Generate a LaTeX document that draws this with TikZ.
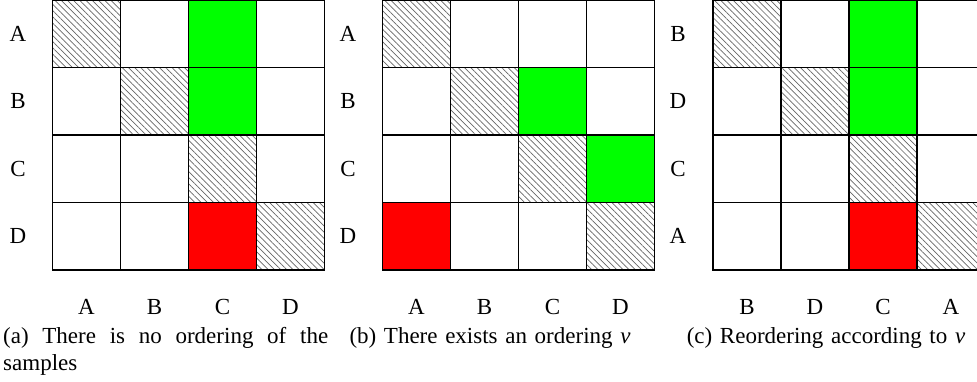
\documentclass[tikz,border=0pt]{standalone}
\usepackage{fontspec}
\setmainfont{Liberation Serif}
\usetikzlibrary{patterns.meta}

\begin{document}
\begin{tikzpicture}[x=1pt, y=-1pt,
  every node/.style={font=\fontsize{23}{27}\selectfont},
  cell/.style={rectangle, draw, line width=1.5pt, minimum width=68pt,
               minimum height=67.5pt, inner sep=0pt},
  plain/.style={},
  diag/.style={pattern={Lines[angle=-45, distance=4.4pt, line width=0.7pt]},
               pattern color=black!60},
  hit/.style={fill=green},
  miss/.style={fill=red},
  lab/.style={inner sep=0pt},
  capt/.style={anchor=base, inner sep=0pt, text width=325pt, align=center,
               execute at begin node={\hyphenpenalty=10000}},
]
  \useasboundingbox (0,0) rectangle (977,381);

  % (a) no ordering
  \foreach \row [count=\i] in {{diag,plain,hit,plain},{plain,diag,hit,plain},
                               {plain,plain,diag,plain},{plain,plain,miss,diag}}
    \foreach \s [count=\j] in \row
      \node[cell, style/.expanded=\s] (a\i\j) at ({52.5+68*\j-34},{67.5*\i-33.75}) {};
  \foreach \t [count=\i] in {A,B,C,D} {
    \node[lab] (arow\i) at (18,{67.5*\i-33.75}) {\t};
    \node[lab] (acol\i) at ({52.5+68*\i-34},306.7) {\t};
  }
  \node[capt, anchor=base west, align=justify] (acapt) at (3,343)
    {(a) There is no ordering of the samples};

  % (b) ordering exists
  \foreach \row [count=\i] in {{diag,plain,plain,plain},{plain,diag,hit,plain},
                               {plain,plain,diag,hit},{miss,plain,plain,diag}}
    \foreach \s [count=\j] in \row
      \node[cell, style/.expanded=\s] (b\i\j) at ({382.5+68*\j-34},{67.5*\i-33.75}) {};
  \foreach \t [count=\i] in {A,B,C,D} {
    \node[lab] (brow\i) at (348,{67.5*\i-33.75}) {\t};
    \node[lab] (bcol\i) at ({382.5+68*\i-34},306.7) {\t};
  }
  \node[capt] (bcapt) at (490,343) {(b) There exists an ordering \textit{ν}};

  % (c) reordered
  \foreach \row [count=\i] in {{diag,plain,hit,plain},{plain,diag,hit,plain},
                               {plain,plain,diag,plain},{plain,plain,miss,diag}}
    \foreach \s [count=\j] in \row
      \node[cell, style/.expanded=\s] (c\i\j) at ({713+68*\j-34},{67.5*\i-33.75}) {};
  \foreach \t [count=\i] in {B,D,C,A} {
    \node[lab] (crow\i) at (678,{67.5*\i-33.75}) {\t};
    \node[lab] (ccol\i) at ({713+68*\i-34},306.7) {\t};
  }
  \node[capt] (ccapt) at (826,343) {(c) Reordering according to \textit{ν}};
\end{tikzpicture}
\end{document}
